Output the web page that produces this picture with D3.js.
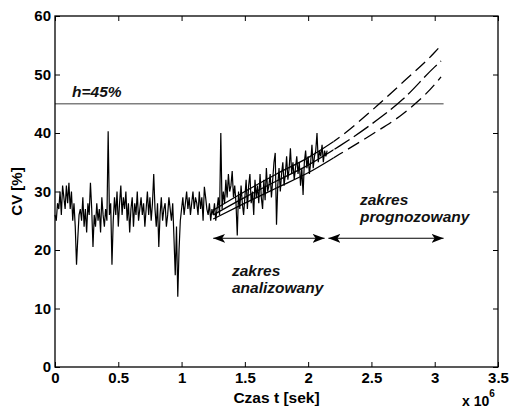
<!DOCTYPE html>
<html>
<head>
<meta charset="utf-8">
<script src="https://cdn.jsdelivr.net/npm/d3@7"></script>
<style>
  body { margin: 0; background: #fff; }
  text { font-family: "Liberation Sans", Arial, sans-serif; font-weight: bold; }
</style>
</head>
<body>
<div id="chart"></div>
<script>
/**
 * CONSTANTS AND DATA
 * */
const width = 509,
  height = 408,
  margin = { top: 16, right: 11, bottom: 41, left: 55 };

// measured CV series, one value every 0.01 x 10^6 s, starting at t = 0
const cvStep = 0.01;
const cvValues = [
  26, 25, 28, 27, 30, 26, 31, 29, 27, 31,
  28, 31.5, 27, 30, 25, 28, 24, 17.5, 22, 26,
  27, 25, 29, 24, 27, 23, 28, 26, 31.5, 27,
  20.5, 26, 24, 28, 25, 27, 23, 29, 26, 24,
  27, 25, 40.3, 26, 28, 17.5, 25, 29, 26, 30,
  24, 28, 31, 26, 29, 27, 30, 25, 28, 23,
  27, 29, 24, 28, 26, 30, 25, 27, 29, 26,
  28, 24, 27, 30, 26, 29, 25, 28, 33, 27,
  24, 28, 20.5, 26, 29, 25, 27, 28, 24, 26,
  29, 27, 25, 28, 22, 15.7, 24, 12, 20, 25,
  27, 29, 26, 28, 30, 27, 29, 26, 28, 30,
  27, 29, 28, 26, 30, 27, 29, 25, 30.8, 29,
  27, 26, 28, 25, 27, 26, 28, 25, 27, 29,
  26, 40, 27, 30, 28, 32, 29, 33, 30, 31,
  33.5, 29, 31, 28, 22.5, 30, 27, 31, 28, 26,
  29, 32, 27, 31, 33, 28, 30, 26, 32, 29,
  31, 28, 33, 29, 27, 32, 28.5, 34, 30, 31,
  33, 29, 32, 35, 36.6, 24.3, 31, 34, 30, 33,
  35, 31, 33, 36, 32, 34, 37.4, 33, 35, 32,
  34, 36, 33, 35, 31, 34, 29.4, 35, 37, 34,
  36, 33, 35, 38, 34, 36, 37, 40, 35, 37,
  36, 38, 35, 37, 36, 37
];

// forecast curves (t in 10^6 s)
const fcTimes = [1.25, 1.5, 1.75, 2.0, 2.25, 2.5, 2.75, 3.0, 3.05];
const fcUpper = [26.8, 30, 33, 35.8, 39.3, 43.8, 48.7, 53.8, 55];
const fcMiddle = [26, 29, 31.8, 34.5, 37.8, 41.5, 45.8, 51.3, 52.3];
const fcLower = [25.3, 28, 30.6, 33.2, 36.4, 39.7, 43.3, 48.3, 49.6];
const fcSolidEnd = 2.2;

// threshold and ranges
const threshold = 45;
const thresholdEnd = 3.07;
const arrowLevel = 22;
const analysedRange = [1.25, 2.13];
const forecastRange = [2.16, 3.07];

const xTicks = [0, 0.5, 1, 1.5, 2, 2.5, 3, 3.5];
const yTicks = [0, 10, 20, 30, 40, 50, 60];

/**
 * SVG
 * */
const svg = d3.select("#chart")
  .append("svg")
  .attr("width", width)
  .attr("height", height);

const x = d3.scaleLinear()
  .domain([0, 3.5])
  .range([margin.left, width - margin.right]);

const y = d3.scaleLinear()
  .domain([0, 60])
  .range([height - margin.bottom, margin.top]);

// arrow marker
svg.append("defs").append("marker")
  .attr("id", "arrow")
  .attr("viewBox", "0 -5 12 10")
  .attr("refX", 12)
  .attr("refY", 0)
  .attr("markerWidth", 12)
  .attr("markerHeight", 10)
  .attr("markerUnits", "userSpaceOnUse")
  .attr("orient", "auto-start-reverse")
  .append("path")
  .attr("d", "M0,-4.5L12,0L0,4.5L3,0Z")
  .attr("fill", "#000");

// threshold line
svg.append("line")
  .attr("x1", x(0)).attr("x2", x(thresholdEnd))
  .attr("y1", y(threshold)).attr("y2", y(threshold))
  .attr("stroke", "#7f7f7f")
  .attr("stroke-width", 1.3);

// measured series
const cvData = cvValues.map((v, i) => [i * cvStep, v]);
const line = d3.line().x(d => x(d[0])).y(d => y(d[1]));

svg.append("path")
  .datum(cvData)
  .attr("fill", "none")
  .attr("stroke", "#000")
  .attr("stroke-width", 1.2)
  .attr("d", line);

// forecast curves: solid inside the analysed range, dashed afterwards
const curve = d3.line()
  .x(d => x(d[0])).y(d => y(d[1]))
  .curve(d3.curveMonotoneX);

[fcUpper, fcMiddle, fcLower].forEach((vals, k) => {
  const pts = fcTimes.map((t, i) => [t, vals[i]]);
  const g = svg.append("g");
  const clipId = "clip" + k;
  const defs = g.append("defs");
  defs.append("clipPath").attr("id", clipId + "a")
    .append("rect").attr("x", 0).attr("y", 0)
    .attr("width", x(fcSolidEnd)).attr("height", height);
  defs.append("clipPath").attr("id", clipId + "b")
    .append("rect").attr("x", x(fcSolidEnd)).attr("y", 0)
    .attr("width", width).attr("height", height);
  g.append("path")
    .datum(pts)
    .attr("fill", "none").attr("stroke", "#000").attr("stroke-width", 1.3)
    .attr("clip-path", `url(#${clipId}a)`)
    .attr("d", curve);
  g.append("path")
    .datum(pts)
    .attr("fill", "none").attr("stroke", "#000").attr("stroke-width", 1.3)
    .attr("stroke-dasharray", k === 1 ? "18,5" : "13,6")
    .attr("clip-path", `url(#${clipId}b)`)
    .attr("d", curve);
});

// range arrows
[analysedRange, forecastRange].forEach(r => {
  svg.append("line")
    .attr("x1", x(r[0])).attr("x2", x(r[1]))
    .attr("y1", y(arrowLevel)).attr("y2", y(arrowLevel))
    .attr("stroke", "#000")
    .attr("stroke-width", 1.1)
    .attr("marker-start", "url(#arrow)")
    .attr("marker-end", "url(#arrow)");
});

// annotations
const italic = (sel) => sel.attr("font-style", "italic").attr("font-size", 15.5).attr("fill", "#111");
svg.append("text").attr("x", 72).attr("y", 97).text("h=45%").call(italic);
svg.append("text").attr("x", 232).attr("y", 276).text("zakres").call(italic);
svg.append("text").attr("x", 232).attr("y", 293).text("analizowany").call(italic);
svg.append("text").attr("x", 360).attr("y", 205).text("zakres").call(italic);
svg.append("text").attr("x", 360).attr("y", 222).text("prognozowany").call(italic);

// axes: ticks inward on all four sides
const axisB = d3.axisBottom(x).tickValues(xTicks).tickSizeInner(-5).tickSizeOuter(0)
  .tickPadding(5).tickFormat(d3.format("~g"));
const axisT = d3.axisTop(x).tickValues(xTicks).tickSizeInner(-5).tickSizeOuter(0).tickFormat("");
const axisL = d3.axisLeft(y).tickValues(yTicks).tickSizeInner(-5).tickSizeOuter(0).tickPadding(4);
const axisR = d3.axisRight(y).tickValues(yTicks).tickSizeInner(-5).tickSizeOuter(0).tickFormat("");

function styleAxis(g) {
  g.select(".domain").remove();
  g.selectAll("line").attr("stroke", "#000");
  g.selectAll("text")
    .attr("font-size", 15)
    .attr("font-family", "Liberation Sans, Arial, sans-serif")
    .attr("font-weight", "bold")
    .attr("fill", "#000");
}

svg.append("g").attr("transform", `translate(0,${y(0)})`).call(axisB).call(styleAxis);
svg.append("g").attr("transform", `translate(0,${y(60)})`).call(axisT).call(styleAxis);
svg.append("g").attr("transform", `translate(${x(0)},0)`).call(axisL).call(styleAxis);
svg.append("g").attr("transform", `translate(${x(3.5)},0)`).call(axisR).call(styleAxis);

// frame
svg.append("rect")
  .attr("x", x(0)).attr("y", y(60))
  .attr("width", x(3.5) - x(0)).attr("height", y(0) - y(60))
  .attr("fill", "none").attr("stroke", "#000").attr("stroke-width", 1.3);

// axis titles
svg.append("text")
  .attr("x", (x(0) + x(3.5)) / 2).attr("y", 403)
  .attr("text-anchor", "middle").attr("font-size", 15.5)
  .text("Czas t [sek]");

svg.append("text")
  .attr("transform", `translate(22,${(y(0) + y(60)) / 2}) rotate(-90)`)
  .attr("text-anchor", "middle").attr("font-size", 15)
  .text("CV [%]");

const mult = svg.append("text").attr("x", 462).attr("y", 406).attr("font-size", 14);
mult.append("tspan").text("x 10");
mult.append("tspan").attr("dy", -9).attr("font-size", 10).text("6");
</script>
</body>
</html>
